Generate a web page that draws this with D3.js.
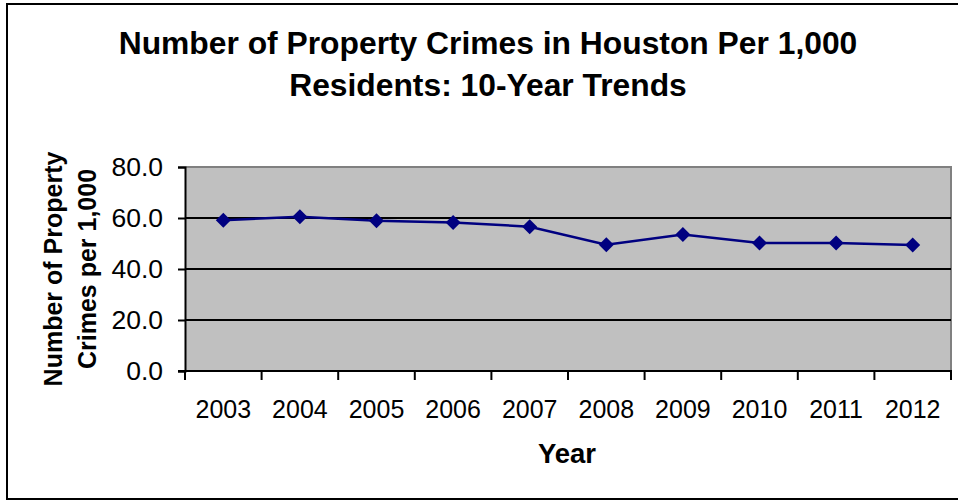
<!DOCTYPE html>
<html>
<head>
<meta charset="utf-8">
<script src="https://cdn.jsdelivr.net/npm/d3@7"></script>
<style>
  html, body { margin: 0; padding: 0; background: #fff; }
  svg { display: block; font-family: "Liberation Sans", Arial, sans-serif; }
</style>
</head>
<body>
<svg id="chart" width="958" height="500"></svg>
<script>
// Property crimes per 1,000 Houston residents, 2003–2012
const years = ["2003", "2004", "2005", "2006", "2007", "2008", "2009", "2010", "2011", "2012"];
const crimeRates = [59.1, 60.5, 58.9, 58.2, 56.6, 49.5, 53.5, 50.2, 50.2, 49.4];
const yTicks = [0, 20, 40, 60, 80];
const titleLines = ["Number of Property Crimes in Houston Per 1,000", "Residents: 10-Year Trends"];
const yTitleLines = ["Number of Property", "Crimes per 1,000"];
const xTitle = "Year";

const svg = d3.select("#chart");

// chart frame
svg.append("rect")
  .attr("x", 7).attr("y", 4)
  .attr("width", 965).attr("height", 495)
  .attr("fill", "none").attr("stroke", "#000").attr("stroke-width", 2);

const plot = { left: 185, top: 167, right: 951, bottom: 371 };

const x = d3.scaleBand().domain(years).range([plot.left, plot.right]).padding(0);
const y = d3.scaleLinear().domain([0, 80]).range([plot.bottom, plot.top]);

// plot background
svg.append("rect")
  .attr("x", plot.left).attr("y", plot.top)
  .attr("width", plot.right - plot.left).attr("height", plot.bottom - plot.top)
  .attr("fill", "#c0c0c0");

// gray top/right border of plot area
svg.append("path")
  .attr("d", `M${plot.left},${plot.top}H${plot.right}V${plot.bottom}`)
  .attr("fill", "none").attr("stroke", "#808080").attr("stroke-width", 2);

// horizontal gridlines
svg.append("g")
  .selectAll("line")
  .data(yTicks.filter(d => d > 0 && d < 80))
  .join("line")
  .attr("x1", plot.left).attr("x2", plot.right)
  .attr("y1", d => y(d)).attr("y2", d => y(d))
  .attr("stroke", "#000").attr("stroke-width", 2);

// y axis
const yAxis = svg.append("g")
  .attr("transform", `translate(${plot.left},0)`)
  .call(d3.axisLeft(y).tickValues(yTicks).tickFormat(d3.format(".1f")).tickSize(7).tickPadding(15));
yAxis.select(".domain").attr("stroke", "#000").attr("stroke-width", 2);
yAxis.selectAll(".tick line").attr("stroke", "#000").attr("stroke-width", 2);
yAxis.selectAll(".tick text")
  .attr("font-family", "Liberation Sans, Arial, sans-serif")
  .attr("font-size", 26.5).attr("fill", "#000");

// x axis: ticks at category boundaries
const boundaries = years.map(d => x(d)).concat([plot.right]);
svg.append("g")
  .selectAll("line")
  .data(boundaries)
  .join("line")
  .attr("x1", d => d).attr("x2", d => d)
  .attr("y1", plot.bottom).attr("y2", plot.bottom + 9)
  .attr("stroke", "#000").attr("stroke-width", 2);
svg.append("line")
  .attr("x1", plot.left - 7).attr("x2", plot.right + 1)
  .attr("y1", plot.bottom).attr("y2", plot.bottom)
  .attr("stroke", "#000").attr("stroke-width", 2);
svg.append("g")
  .selectAll("text")
  .data(years)
  .join("text")
  .attr("x", d => x(d) + x.bandwidth() / 2)
  .attr("y", 417.5)
  .attr("text-anchor", "middle")
  .attr("font-size", 25)
  .text(d => d);

// data line
const line = d3.line()
  .x((d, i) => x(years[i]) + x.bandwidth() / 2)
  .y(d => y(d));
svg.append("path")
  .datum(crimeRates)
  .attr("d", line)
  .attr("fill", "none").attr("stroke", "#000080").attr("stroke-width", 2.5);

// diamond markers
svg.append("g")
  .selectAll("path")
  .data(crimeRates)
  .join("path")
  .attr("transform", (d, i) => `translate(${x(years[i]) + x.bandwidth() / 2},${y(d)})`)
  .attr("d", "M0,-7.5L7.5,0L0,7.5L-7.5,0Z")
  .attr("fill", "#000080");

// title
svg.append("g")
  .selectAll("text")
  .data(titleLines)
  .join("text")
  .attr("x", 488)
  .attr("y", (d, i) => 54 + i * 42)
  .attr("text-anchor", "middle")
  .attr("font-size", 31.8).attr("font-weight", "bold")
  .text(d => d);

// y axis title
svg.append("g")
  .selectAll("text")
  .data(yTitleLines)
  .join("text")
  .attr("transform", (d, i) => `translate(${62 + i * 34},${(plot.top + plot.bottom) / 2}) rotate(-90)`)
  .attr("text-anchor", "middle")
  .attr("font-size", 25).attr("font-weight", "bold")
  .text(d => d);

// x axis title
svg.append("text")
  .attr("x", (plot.left + plot.right) / 2 - 1)
  .attr("y", 463)
  .attr("text-anchor", "middle")
  .attr("font-size", 27.5).attr("font-weight", "bold")
  .text(xTitle);
</script>
</body>
</html>
